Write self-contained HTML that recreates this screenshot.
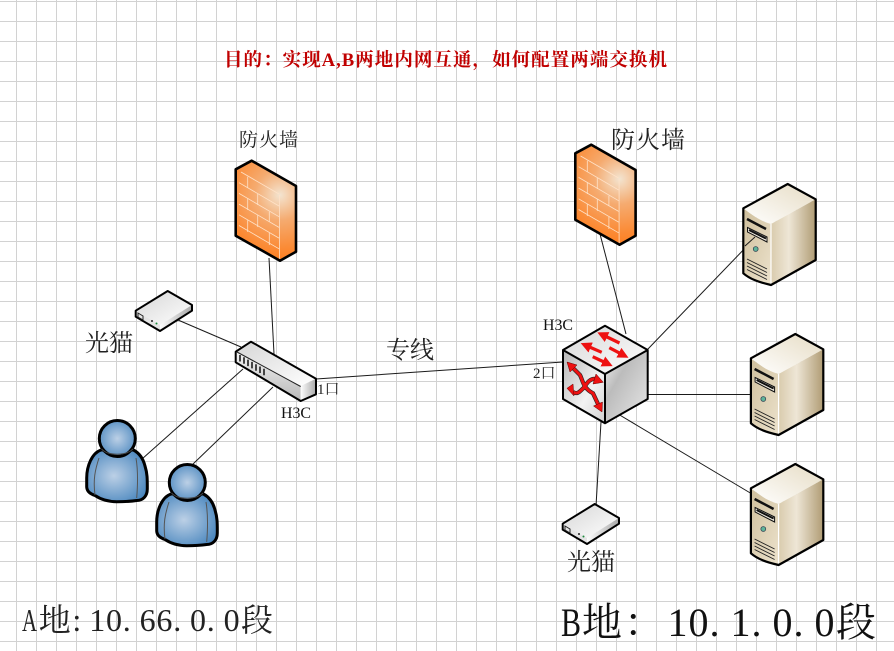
<!DOCTYPE html>
<html><head><meta charset="utf-8"><style>
html,body{margin:0;padding:0;background:#fff}
svg{display:block}
text{font-family:"Liberation Serif","Noto Serif CJK SC",serif;fill:#111}
</style></head><body>
<svg width="894" height="651" viewBox="0 0 894 651" xmlns="http://www.w3.org/2000/svg">
<defs>
<pattern id="grid" x="-4" y="1" width="20" height="20" patternUnits="userSpaceOnUse">
<path d="M0 .5H20M.5 0V20" stroke="#d2d2d2" stroke-width="1" fill="none"/>
</pattern>
<radialGradient id="fwG" gradientUnits="userSpaceOnUse" cx="280" cy="195" r="72"><stop offset="0" stop-color="#f3e4d0"/><stop offset=".35" stop-color="#f5ab70"/><stop offset=".75" stop-color="#fb8a34"/><stop offset="1" stop-color="#ff7a18"/></radialGradient>
<linearGradient id="g1" x1="0" y1="0" x2="1" y2="1"><stop offset="0" stop-color="#d6d6d6"/><stop offset="1" stop-color="#ffffff"/></linearGradient>
<linearGradient id="g2" x1="0" y1="0" x2="1" y2="0"><stop offset="0" stop-color="#fdfdfd"/><stop offset="1" stop-color="#a8a8a8"/></linearGradient>
<linearGradient id="g3" x1="0" y1="0" x2="1" y2="1"><stop offset="0" stop-color="#b5b5b5"/><stop offset=".6" stop-color="#f2f2f2"/><stop offset="1" stop-color="#d0d0d0"/></linearGradient>
<linearGradient id="g4" x1="0" y1="0" x2="0" y2="1"><stop offset="0" stop-color="#f4f4f4"/><stop offset="1" stop-color="#b8b8b8"/></linearGradient>
<linearGradient id="g5" x1="0" y1="0" x2="1" y2="1"><stop offset="0" stop-color="#f6f6f6"/><stop offset=".35" stop-color="#bcbcbc"/><stop offset="1" stop-color="#e8e8e8"/></linearGradient>
<linearGradient id="svT" x1="0" y1="1" x2="1" y2="0"><stop offset="0" stop-color="#fff"/><stop offset="1" stop-color="#e6dcc4"/></linearGradient>
<linearGradient id="svF" x1="0" y1="0" x2="1" y2="1"><stop offset="0" stop-color="#cfbf9c"/><stop offset="1" stop-color="#ece2cc"/></linearGradient>
<linearGradient id="svR" x1="0" y1="0" x2="1" y2="0"><stop offset="0" stop-color="#d9cbad"/><stop offset=".4" stop-color="#eee6d6"/><stop offset="1" stop-color="#b09c74"/></linearGradient>
<radialGradient id="uH" cx=".5" cy=".5" r=".6"><stop offset="0" stop-color="#bcd0e6"/><stop offset="1" stop-color="#4c88bf"/></radialGradient>
<radialGradient id="uB" cx=".45" cy=".5" r=".6"><stop offset="0" stop-color="#bcd0e6"/><stop offset="1" stop-color="#4c88bf"/></radialGradient>
<marker id="ah" markerWidth="3.4" markerHeight="3.4" refX="0.4" refY="1.7" orient="auto"><path d="M0 0L3.4 1.7L0 3.4Z" fill="#ee1111"/></marker>

<g id="fw">
<path d="M235.700 169.300L251.700 160.700L296 186V251.700L280 260.700L235.700 235.700Z" fill="url(#fwG)"/>
<g stroke="#ffe2c8" stroke-width=".8" fill="none">
<path d="M239 182.700L279 206M239 193.400L279 216.700M239 204.100L279 227.400M239 214.800L279 238.100M239 225.500L279 248.800M241 172L279 194M279.500 195V260"/>
<path d="M247.700 176.700V188M257.700 194V205M269.300 211.700V222M247.700 198V210M257.700 215V227M247.700 220V232M269.300 233V245"/>
</g>
<path d="M235.700 169.300L251.700 160.700L296 186V251.700L280 260.700L235.700 235.700Z" fill="none" stroke="#000" stroke-width="2.600" stroke-linejoin="round"/>
</g>

<g id="modem">
<path d="M135.700 310.700L167.700 291L192 305L160 325Z" fill="url(#g1)"/>
<path d="M135.700 310.700L160 325V331L135.700 316.700Z" fill="#e4e4e4"/>
<path d="M160 325L192 305V310.700L160 331Z" fill="url(#g2)"/>
<path d="M135.700 310.700L167.700 291L192 305V310.700L160 331L135.700 316.700Z" fill="none" stroke="#000" stroke-width="2" stroke-linejoin="round"/>
<path d="M138 313l5 3v4l-5-3z" fill="none" stroke="#222" stroke-width="1"/>
<circle cx="152" cy="321" r="1" fill="#222"/><circle cx="156.500" cy="323.500" r="1" fill="#1c8a3c"/>
</g>

<g id="user">
<path d="M101 450C92 453 86.700 466 86.700 478V487C87 492 91 494 95 495.500C101 499.500 108 501.700 116.700 501.700C124 501.700 130 501.500 136.700 500.500C143 500.500 147.300 496 147.300 489C147.300 480 147.500 474 145 466C143 458 139 453 133.500 450Z" fill="url(#uB)" stroke="#000" stroke-width="3" stroke-linejoin="round"/>
<path d="M99 458C95 470 93 480 95 495M136 458C138 470 138 482 136.700 498" fill="none" stroke="#555" stroke-width="1"/>
<circle cx="117.300" cy="438.500" r="18" fill="url(#uH)" stroke="#000" stroke-width="3"/>
<path d="M101.500 449C108 456 126 456 133 449" fill="none" stroke="#444" stroke-width="1"/>
</g>

<g id="server">
<path d="M743.300 208.300C752 215 760 221 771 224L815.700 199.300L787.700 184Z" fill="url(#svT)"/>
<path d="M743.300 208.300C752 215 760 221 771 224V285C758 282 750 279 743.300 273.300Z" fill="url(#svF)"/>
<path d="M771 224L815.700 199.300V260L771 285Z" fill="url(#svR)"/>
<path d="M771 224V285" stroke="#fff" stroke-width="1.200"/>
<path d="M747 219L766 229" stroke="#111" stroke-width="2.500"/>
<path d="M747.500 227.500L767 237V242L747.500 232Z" fill="#f4efe3" stroke="#111" stroke-width="1"/>
<path d="M749 230L766 238.500" stroke="#111" stroke-width="2"/>
<circle cx="755.700" cy="249" r="2.400" fill="#5fb59a" stroke="#345" stroke-width=".8"/>
<path d="M747 259L767 269M747 262.500L767 272.500M747 266L767 276M747 269.500L767 279.500" stroke="#222" stroke-width=".9"/>
<path d="M743.300 208.300L787.700 184L815.700 199.300V260L771 285C758 282 750 279 743.300 273.300Z" fill="none" stroke="#000" stroke-width="2.200" stroke-linejoin="round"/>
</g>
</defs>

<rect width="894" height="651" fill="#fff"/>
<rect width="894" height="651" fill="url(#grid)"/>

<!-- connectors -->
<g stroke="#1a1a1a" stroke-width="1" fill="none">
<path d="M269 258L274 354"/>
<path d="M178 320L241 347"/>
<path d="M142 459L243 369"/>
<path d="M192 465L273 387"/>
<path d="M316 379L563 362"/>
<path d="M600 234L626 334"/>
<path d="M647 350L750 243"/>
<path d="M647 394.500H752"/>
<path d="M618 414L752 494"/>
<path d="M601 422L596 506"/>
</g>

<!-- firewalls -->
<use href="#fw"/>
<use href="#fw" transform="translate(339.600,-16)"/>

<!-- modems -->
<use href="#modem"/>
<use href="#modem" transform="translate(427,213)"/>

<!-- access switch -->
<path d="M235.700 351.700L251 341.700L316 378.700L300.700 386Z" fill="url(#g1)"/>
<path d="M235.700 351.700L300.700 386V401L235.700 362.300Z" fill="url(#g4)"/>
<path d="M300.700 386L316 378.700V394.300L300.700 401Z" fill="url(#g2)"/>
<path d="M235.700 351.700L251 341.700L316 378.700V394.300L300.700 401L235.700 362.300Z" fill="none" stroke="#000" stroke-width="2" stroke-linejoin="round"/>
<path d="M237 352L300.700 386.500" stroke="#222" stroke-width="1"/>
<path d="M240 355v6.500M244 357.300v6.500M248 359.600v6.500M252 361.900v6.500M256 364.200v6.500M260 366.500v6.500M264 368.800v6.500" stroke="#333" stroke-width="1.800"/>

<!-- users -->
<use href="#user"/>
<use href="#user" transform="translate(70,44)"/>

<!-- core switch -->
<path d="M605 325.700L647.700 350L605 374L563 350Z" fill="url(#g1)"/>
<path d="M563 350L605 374V423.300L563 399Z" fill="url(#g3)"/>
<path d="M605 374L647.700 350V399L605 423.300Z" fill="url(#g5)"/>
<path d="M605 325.700L647.700 350V399L605 423.300L563 399V350ZM563 350L605 374L647.700 350M605 374V423.300" fill="none" stroke="#000" stroke-width="2" stroke-linejoin="round"/>
<g fill="none" stroke="#ee1111" stroke-width="3.200" marker-end="url(#ah)">
<path d="M619.500 343L606 336.500"/>
<path d="M609.300 347.700L620 353.300"/>
<path d="M601.700 352.300L589.500 347"/>
<path d="M592.700 356.700L604 362"/>
</g>
<path d="M572 367L580 375C583 381 583 388 593 393.300L598 404" fill="none" stroke="#222" stroke-width="4.200"/>
<path d="M573 392C578 395 580 391 583.300 388.300C587 383 590 378 596 379" fill="none" stroke="#222" stroke-width="4.200"/>
<path d="M572 367L580 375C583 381 583 388 593 393.300L598 404" fill="none" stroke="#ee1111" stroke-width="3"/>
<path d="M573 392C578 395 580 391 583.300 388.300C587 383 590 378 596 379" fill="none" stroke="#ee1111" stroke-width="3"/>
<path d="M567 362L577 365L570 372ZM602 412L602.500 402L593.500 406ZM567 388.300L573 384L574 396ZM603.300 382.300L596 374L593 384Z" fill="#ee1111" stroke="#600" stroke-width=".5"/>

<!-- servers -->
<use href="#server"/>
<use href="#server" transform="translate(7.600,150)"/>
<use href="#server" transform="translate(7.600,280)"/>
<path d="M745 246L755 237" stroke="#1a1a1a" stroke-width="1"/>

<!-- labels -->
<text x="224" y="66" font-size="18.500" font-weight="700" style="fill:#c00000" textLength="443" lengthAdjust="spacing">目的：实现A,B两地内网互通，如何配置两端交换机</text>
<text x="239" y="146" font-size="19" style="fill:#222" textLength="59" lengthAdjust="spacing">防火墙</text>
<text x="611" y="148" font-size="24" style="fill:#222" textLength="74" lengthAdjust="spacing">防火墙</text>
<text x="85" y="351" font-size="24" style="fill:#222">光猫</text>
<text x="567" y="570" font-size="24" style="fill:#222">光猫</text>
<text x="386" y="358" font-size="24" style="fill:#222">专线</text>
<text x="281" y="418" font-size="16" textLength="30" lengthAdjust="spacingAndGlyphs">H3C</text>
<text x="543" y="330" font-size="16" textLength="30" lengthAdjust="spacingAndGlyphs">H3C</text>
<text x="317" y="394" font-size="15" style="fill:#222">1口</text>
<text x="533" y="378" font-size="15" style="fill:#222">2口</text>
<text y="631" x="22" font-size="32" textLength="15" lengthAdjust="spacingAndGlyphs" style="fill:#222">A</text>
<text y="631" font-size="32" x="38.800 72.400 89.200 106 122.800 139.600 156.400 173.200 190 206.800 223.600 241" style="fill:#222">地:10.66.0.0段</text>
<text y="636" x="561" font-size="40" textLength="20" lengthAdjust="spacingAndGlyphs">B</text>
<text y="636" font-size="40" x="582 624 667.500 688.500 709.500 730.500 751.500 772.500 793.500 814.500 836">地：10.1.0.0段</text>
</svg>
</body></html>
